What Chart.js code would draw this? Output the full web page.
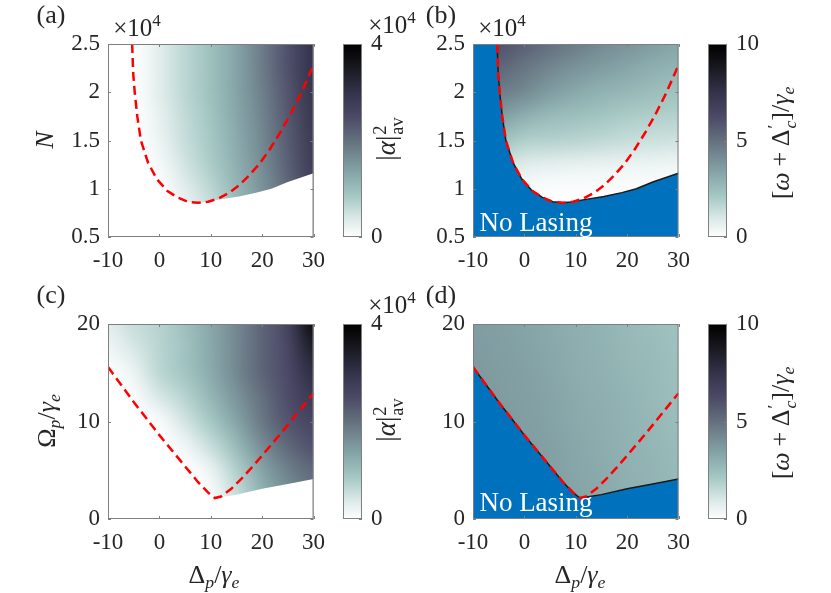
<!DOCTYPE html>
<html>
<head>
<meta charset="utf-8">
<script src="https://cdn.jsdelivr.net/npm/chart.js@4.4.0/dist/chart.umd.min.js"></script>
<style>
html, body { margin: 0; padding: 0; background: #fff; }
#fig { position: relative; width: 831px; height: 593px; overflow: hidden; font-family: 'Liberation Serif', serif; color: #262626; }
canvas { position: absolute; }
.t { position: absolute; white-space: nowrap; line-height: 1; transform: translate(-50%, -50%); z-index: 5; }
.r { transform: translate(-50%, -50%) rotate(-90deg); }
.ss { display: inline-block; vertical-align: -0.42em; font-size: 0.68em; line-height: 0.95; text-align: left; margin-left: 1px; }
.ss span { display: block; }
.op { margin: 0 0.22em; }
sup { font-size: 0.68em; vertical-align: 0.55em; line-height: 0; }
sub { font-size: 0.68em; vertical-align: -0.3em; line-height: 0; }
</style>
</head>
<body>
<div id="fig">
  <canvas id="panelA" width="335" height="280" style="left:0px;top:0px"></canvas>
  <canvas id="barA" width="90" height="280" style="left:330px;top:0px"></canvas>
  <canvas id="panelB" width="320" height="280" style="left:380px;top:0px"></canvas>
  <canvas id="barB" width="100" height="280" style="left:695px;top:0px"></canvas>
  <canvas id="panelC" width="335" height="313" style="left:0px;top:280px"></canvas>
  <canvas id="barC" width="90" height="313" style="left:330px;top:280px"></canvas>
  <canvas id="panelD" width="320" height="313" style="left:380px;top:280px"></canvas>
  <canvas id="barD" width="100" height="313" style="left:695px;top:280px"></canvas>

  <div class="t" style="left:51px;top:15px;font-size:26px">(a)</div>
  <div class="t" style="left:441px;top:15px;font-size:26px">(b)</div>
  <div class="t" style="left:51px;top:295px;font-size:26px">(c)</div>
  <div class="t" style="left:441px;top:295px;font-size:26px">(d)</div>

  <div class="t" style="left:137px;top:27px;font-size:25px">×10<sup>4</sup></div>
  <div class="t" style="left:502px;top:27px;font-size:25px">×10<sup>4</sup></div>
  <div class="t" style="left:392px;top:24px;font-size:25px">×10<sup>4</sup></div>
  <div class="t" style="left:392px;top:304px;font-size:25px">×10<sup>4</sup></div>

  <div class="t r" style="left:45px;top:140px;font-size:26px"><i>N</i></div>
  <div class="t r" style="left:47px;top:421px;font-size:26px">Ω<sub><i>p</i></sub>/<i>γ</i><sub><i>e</i></sub></div>
  <div class="t" style="left:214px;top:575px;font-size:26px">Δ<sub><i>p</i></sub>/<i>γ</i><sub><i>e</i></sub></div>
  <div class="t" style="left:580px;top:575px;font-size:26px">Δ<sub><i>p</i></sub>/<i>γ</i><sub><i>e</i></sub></div>

  <div class="t r" style="left:389px;top:139px;font-size:27px">|<i>α</i>|<span class="ss"><span>2</span><span>av</span></span></div>
  <div class="t r" style="left:389px;top:420px;font-size:27px">|<i>α</i>|<span class="ss"><span>2</span><span>av</span></span></div>
  <div class="t r" style="left:782px;top:143px;font-size:26px">[<i>ω</i><span class="op">+</span>Δ<span class="ss"><span>′</span><span><i>c</i></span></span>]/<i>γ</i><sub><i>e</i></sub></div>
  <div class="t r" style="left:782px;top:423px;font-size:26px">[<i>ω</i><span class="op">+</span>Δ<span class="ss"><span>′</span><span><i>c</i></span></span>]/<i>γ</i><sub><i>e</i></sub></div>

  <div class="t" style="left:536px;top:222px;font-size:27px;color:#fff">No Lasing</div>
  <div class="t" style="left:536px;top:502px;font-size:27px;color:#fff">No Lasing</div>
</div>
<script>
// grid of the maps: detuning Δp/γe (columns), N ×1e4 and Ωp/γe (rows, top row first)
const detuning = [-10, -5, 0, 5, 10, 15, 20, 25, 30]
const atomRows = [2.5, 2.25, 2, 1.75, 1.5, 1.25, 1, 0.75, 0.5]
const rabiRows = [20, 17.5, 15, 12.5, 10, 7.5, 5, 2.5, 0]

const xTicks = [-10, 0, 10, 20, 30]
const atomTicks = [0.5, 1, 1.5, 2, 2.5]
const rabiTicks = [0, 10, 20]
const photonBarTicks = [0, 4]
const shiftBarTicks = [0, 5, 10]

// (a) |α|²av in units of 1e4
const photonsVsN = [
	[0, 0, 0.30, 0.65, 0.95, 1.35, 1.85, 2.40, 3.00],
	[0, 0, 0.30, 0.65, 0.95, 1.35, 1.85, 2.40, 3.00],
	[0, 0, 0.30, 0.65, 0.95, 1.35, 1.80, 2.35, 2.95],
	[0, 0, 0.25, 0.60, 0.90, 1.30, 1.75, 2.30, 2.90],
	[0, 0, 0.20, 0.55, 0.85, 1.25, 1.70, 2.25, 2.85],
	[0, 0, 0.10, 0.45, 0.80, 1.20, 1.65, 2.20, 2.80],
	[0, 0, 0.02, 0.30, 0.65, 1.10, 1.55, 2.10, 2.70],
	[0, 0, 0, 0.15, 0.50, 0.95, 1.45, 2.00, 2.60],
	[0, 0, 0, 0, 0.35, 0.85, 1.35, 1.90, 2.50]
]
// (b) [ω + Δ'c]/γe
const shiftVsN = [
	[6.2, 6.0, 5.5, 5.0, 4.6, 4.2, 3.9, 3.6, 3.3],
	[5.6, 5.3, 4.8, 4.3, 3.9, 3.6, 3.3, 3.0, 2.8],
	[4.8, 4.6, 4.2, 3.6, 3.2, 2.9, 2.7, 2.5, 2.3],
	[3.8, 3.6, 3.0, 2.6, 2.4, 2.2, 2.0, 1.9, 1.8],
	[2.8, 2.4, 1.9, 1.8, 1.7, 1.55, 1.4, 1.3, 1.2],
	[1.6, 1.3, 0.8, 0.7, 0.6, 0.55, 0.5, 0.45, 0.4],
	[0.6, 0.4, 0.2, 0.1, 0.1, 0.1, 0.1, 0.1, 0.1],
	[0, 0, 0, 0, 0, 0, 0, 0, 0],
	[0, 0, 0, 0, 0, 0, 0, 0, 0]
]
// (c) |α|²av in units of 1e4
const photonsVsRabi = [
	[0.30, 0.55, 0.70, 0.95, 1.30, 1.70, 2.15, 2.60, 3.80],
	[0.15, 0.40, 0.68, 0.92, 1.28, 1.70, 2.15, 2.55, 3.40],
	[0.02, 0.20, 0.65, 0.90, 1.25, 1.70, 2.15, 2.50, 3.10],
	[0, 0.05, 0.40, 0.70, 1.10, 1.55, 2.00, 2.45, 2.85],
	[0, 0, 0.05, 0.45, 0.85, 1.35, 1.90, 2.35, 2.60],
	[0, 0, 0, 0.15, 0.55, 1.05, 1.65, 2.10, 2.40],
	[0, 0, 0, 0, 0.20, 0.75, 1.35, 1.80, 2.10],
	[0, 0, 0, 0, 0.05, 0.55, 1.15, 1.60, 1.95],
	[0, 0, 0, 0, 0, 0.40, 1.00, 1.45, 1.85]
]
// (d) [ω + Δ'c]/γe
const shiftVsRabi = [
	[3.60, 3.50, 3.35, 3.20, 3.00, 2.85, 2.65, 2.50, 2.30],
	[3.65, 3.55, 3.40, 3.25, 3.05, 2.90, 2.70, 2.55, 2.35],
	[3.70, 3.60, 3.45, 3.30, 3.10, 2.95, 2.75, 2.60, 2.40],
	[3.75, 3.65, 3.50, 3.35, 3.15, 3.00, 2.80, 2.65, 2.45],
	[3.80, 3.70, 3.55, 3.40, 3.20, 3.05, 2.85, 2.70, 2.50],
	[3.80, 3.70, 3.60, 3.45, 3.25, 3.10, 2.90, 2.75, 2.55],
	[3.80, 3.75, 3.60, 3.50, 3.30, 3.15, 2.95, 2.80, 2.60],
	[3.80, 3.75, 3.65, 3.50, 3.35, 3.20, 3.00, 2.85, 2.65],
	[3.80, 3.75, 3.65, 3.50, 3.35, 3.20, 3.00, 2.85, 2.65]
]

// red dashed threshold curves
const thresholdNx = [-5.3, -5.1, -4.8, -4.3, -3.6, -2.2, -0.5, 1.5, 3.5, 5.5, 7.5, 9.5, 11.5, 13.5, 15.5, 17.5, 19.5, 21.5, 23.5, 25.5, 27.5, 30]
const thresholdN = [2.5, 2.2, 2.0, 1.75, 1.5, 1.27, 1.1, 0.98, 0.91, 0.865, 0.855, 0.866, 0.9, 0.955, 1.035, 1.14, 1.26, 1.41, 1.58, 1.77, 1.98, 2.28]
const thresholdRx = [-10, -7.5, -5, -2.5, 0, 2.5, 5, 7.5, 9.5, 10.8, 12, 14, 16, 18, 20, 22, 24, 26, 28, 30]
const thresholdRabi = [15.6, 13.8, 12.0, 10.3, 8.6, 7.0, 5.4, 3.8, 2.7, 2.15, 2.3, 3.1, 4.15, 5.3, 6.5, 7.75, 9.0, 10.3, 11.6, 12.9]

// upper edge of the no-lasing region
const edgeNx = [-10, -5.3, -5.1, -4.8, -4.3, -3.6, -2.2, -0.5, 1.5, 3.5, 5.5, 7.5, 9, 12, 15.5, 19, 21.8, 25, 30]
const edgeN = [2.5, 2.5, 2.2, 2.0, 1.75, 1.5, 1.27, 1.1, 0.98, 0.91, 0.865, 0.855, 0.862, 0.89, 0.92, 0.96, 1.0, 1.07, 1.16]
const edgeRx = [-10, -7.5, -5, -2.5, 0, 2.5, 5, 7.5, 9.5, 10.8, 11.5, 15, 20, 25, 30]
const edgeRabi = [15.6, 13.8, 12.0, 10.3, 8.6, 7.0, 5.4, 3.8, 2.7, 2.15, 2.2, 2.5, 3.1, 3.6, 4.1]

// colormap (white -> teal -> slate -> black)
const cmapPos = [0, 0.1, 0.22, 0.35, 0.5, 0.62, 0.75, 0.88, 1]
const cmapCol = ['#ffffff', '#d8e8e6', '#a2c6c2', '#82a0a4', '#64707e', '#4c4a68', '#34324a', '#18181f', '#000000']

const blue = '#0072bd'
const axisGray = '#7f7f7f'
const font = { family: "'Liberation Serif', serif", size: 23 }

function hexRgb(h) {
	return [parseInt(h.slice(1, 3), 16), parseInt(h.slice(3, 5), 16), parseInt(h.slice(5, 7), 16)]
}
function cmap(f) {
	f = Math.max(0, Math.min(1, f))
	for (let i = 1; i < cmapPos.length; i++) {
		if (f <= cmapPos[i]) {
			const t = (f - cmapPos[i - 1]) / (cmapPos[i] - cmapPos[i - 1])
			const a = hexRgb(cmapCol[i - 1]), b = hexRgb(cmapCol[i])
			return a.map((v, k) => Math.round(v + (b[k] - v) * t))
		}
	}
	return hexRgb(cmapCol[cmapCol.length - 1])
}
const xy = (xs, ys) => xs.map((x, i) => ({ x: x, y: ys[i] }))

// draws the value grid under the datasets, placed with the chart scales
function heatmap(xs, ys, z, vmax) {
	return {
		id: 'heatmap',
		beforeDatasetsDraw(chart) {
			const { ctx, chartArea: a, scales } = chart
			const off = document.createElement('canvas')
			off.width = xs.length
			off.height = ys.length
			const octx = off.getContext('2d')
			const img = octx.createImageData(xs.length, ys.length)
			z.forEach((row, j) => row.forEach((v, i) => {
				const c = cmap(v / vmax), p = (j * xs.length + i) * 4
				img.data[p] = c[0]; img.data[p + 1] = c[1]; img.data[p + 2] = c[2]; img.data[p + 3] = 255
			}))
			octx.putImageData(img, 0, 0)
			const hx = (xs[1] - xs[0]) / 2, hy = (ys[0] - ys[1]) / 2
			const x0 = scales.x.getPixelForValue(xs[0] - hx)
			const x1 = scales.x.getPixelForValue(xs[xs.length - 1] + hx)
			const y0 = scales.y.getPixelForValue(ys[0] + hy)
			const y1 = scales.y.getPixelForValue(ys[ys.length - 1] - hy)
			ctx.save()
			ctx.beginPath()
			ctx.rect(a.left, a.top, a.right - a.left, a.bottom - a.top)
			ctx.clip()
			ctx.imageSmoothingEnabled = true
			ctx.imageSmoothingQuality = 'high'
			ctx.drawImage(off, x0, y0, x1 - x0, y1 - y0)
			ctx.restore()
		}
	}
}

// box with inward ticks, matlab style
const frame = {
	id: 'frame',
	afterDatasetsDraw(chart) {
		const { ctx, chartArea: a, scales } = chart
		ctx.save()
		ctx.strokeStyle = axisGray
		ctx.lineWidth = 1
		ctx.strokeRect(a.left + 0.5, a.top + 0.5, a.right - a.left - 1, a.bottom - a.top - 1)
		ctx.beginPath()
		if (scales.x.options.display) {
			scales.x.ticks.forEach(t => {
				const px = Math.round(scales.x.getPixelForValue(t.value)) + 0.5
				ctx.moveTo(px, a.bottom); ctx.lineTo(px, a.bottom - 3)
				ctx.moveTo(px, a.top); ctx.lineTo(px, a.top + 3)
			})
			scales.y.ticks.forEach(t => {
				const py = Math.round(scales.y.getPixelForValue(t.value)) + 0.5
				ctx.moveTo(a.left, py); ctx.lineTo(a.left + 3, py)
				ctx.moveTo(a.right, py); ctx.lineTo(a.right - 3, py)
			})
		} else {
			scales.y.ticks.forEach(t => {
				const py = Math.round(scales.y.getPixelForValue(t.value)) + 0.5
				ctx.moveTo(a.right, py); ctx.lineTo(a.right - 3, py)
			})
		}
		ctx.stroke()
		ctx.restore()
	}
}

// colorbar fill
const colorbar = {
	id: 'colorbar',
	beforeDatasetsDraw(chart) {
		const { ctx, chartArea: a } = chart
		const g = ctx.createLinearGradient(0, a.bottom, 0, a.top)
		cmapPos.forEach((p, i) => g.addColorStop(p, cmapCol[i]))
		ctx.save()
		ctx.fillStyle = g
		ctx.fillRect(a.left, a.top, a.right - a.left, a.bottom - a.top)
		ctx.restore()
	}
}

function setTicks(list) {
	return scale => { scale.ticks = list.map(v => ({ value: v })) }
}

function makePanel(id, p) {
	const datasets = [
		{
			data: xy(p.curveX, p.curveY),
			showLine: true,
			borderColor: '#ff0000',
			borderWidth: 2.5,
			borderDash: [9, 5],
			pointRadius: 0,
			fill: false,
			order: 0
		},
		{
			data: xy(p.edgeX, p.edgeY),
			showLine: true,
			borderColor: p.masked ? '#ffffff' : '#1a1a1a',
			borderWidth: p.masked ? 0 : 1.5,
			backgroundColor: p.masked ? '#ffffff' : blue,
			fill: 'start',
			pointRadius: 0,
			order: 1
		}
	]
	return new Chart(document.getElementById(id), {
		type: 'scatter',
		data: { datasets: datasets },
		options: {
			responsive: false,
			animation: false,
			layout: { padding: { top: p.padTop, right: p.padRight, left: 0, bottom: 0 } },
			plugins: { legend: { display: false }, tooltip: { enabled: false } },
			scales: {
				x: {
					type: 'linear', min: -10, max: 30,
					afterBuildTicks: setTicks(xTicks),
					afterFit: s => { s.height = p.xHeight },
					grid: { display: false, drawTicks: false },
					border: { display: false },
					ticks: { font: font, color: '#262626', padding: 10, maxRotation: 0, callback: v => String(v) }
				},
				y: {
					type: 'linear', min: p.yMin, max: p.yMax,
					afterBuildTicks: setTicks(p.yTicks),
					afterFit: s => { s.width = p.yWidth },
					grid: { display: false, drawTicks: false },
					border: { display: false },
					ticks: { font: font, color: '#262626', padding: 8, callback: v => String(v) }
				}
			}
		},
		plugins: [heatmap(detuning, p.rows, p.z, p.vmax), frame]
	})
}

function makeBar(id, b) {
	return new Chart(document.getElementById(id), {
		type: 'scatter',
		data: { datasets: [{ data: [] }] },
		options: {
			responsive: false,
			animation: false,
			layout: { padding: { top: b.padTop, bottom: b.padBottom, left: 13, right: 0 } },
			plugins: { legend: { display: false }, tooltip: { enabled: false } },
			scales: {
				x: { type: 'linear', min: 0, max: 1, display: false },
				y: {
					type: 'linear', position: 'right', min: 0, max: b.vmax,
					afterBuildTicks: setTicks(b.ticks),
					afterFit: s => { s.width = b.yWidth },
					grid: { display: false, drawTicks: false },
					border: { display: false },
					ticks: { font: font, color: '#262626', padding: 9, callback: v => String(v) }
				}
			}
		},
		plugins: [colorbar, frame]
	})
}

makePanel('panelA', { rows: atomRows, z: photonsVsN, vmax: 4, yMin: 0.5, yMax: 2.5, yTicks: atomTicks,
	curveX: thresholdNx, curveY: thresholdN, edgeX: edgeNx, edgeY: edgeN, masked: true,
	padTop: 44, padRight: 14, xHeight: 43, yWidth: 108 })
makePanel('panelB', { rows: atomRows, z: shiftVsN, vmax: 10, yMin: 0.5, yMax: 2.5, yTicks: atomTicks,
	curveX: thresholdNx, curveY: thresholdN, edgeX: edgeNx, edgeY: edgeN, masked: false,
	padTop: 44, padRight: 13, xHeight: 43, yWidth: 93 })
makePanel('panelC', { rows: rabiRows, z: photonsVsRabi, vmax: 4, yMin: 0, yMax: 20, yTicks: rabiTicks,
	curveX: thresholdRx, curveY: thresholdRabi, edgeX: edgeRx, edgeY: edgeRabi, masked: true,
	padTop: 44, padRight: 14, xHeight: 74, yWidth: 108 })
makePanel('panelD', { rows: rabiRows, z: shiftVsRabi, vmax: 10, yMin: 0, yMax: 20, yTicks: rabiTicks,
	curveX: thresholdRx, curveY: thresholdRabi, edgeX: edgeRx, edgeY: edgeRabi, masked: false,
	padTop: 44, padRight: 13, xHeight: 74, yWidth: 93 })

makeBar('barA', { vmax: 4, ticks: photonBarTicks, padTop: 44, padBottom: 43, yWidth: 58 })
makeBar('barB', { vmax: 10, ticks: shiftBarTicks, padTop: 44, padBottom: 43, yWidth: 68 })
makeBar('barC', { vmax: 4, ticks: photonBarTicks, padTop: 44, padBottom: 74, yWidth: 58 })
makeBar('barD', { vmax: 10, ticks: shiftBarTicks, padTop: 44, padBottom: 74, yWidth: 68 })
</script>
</body>
</html>
